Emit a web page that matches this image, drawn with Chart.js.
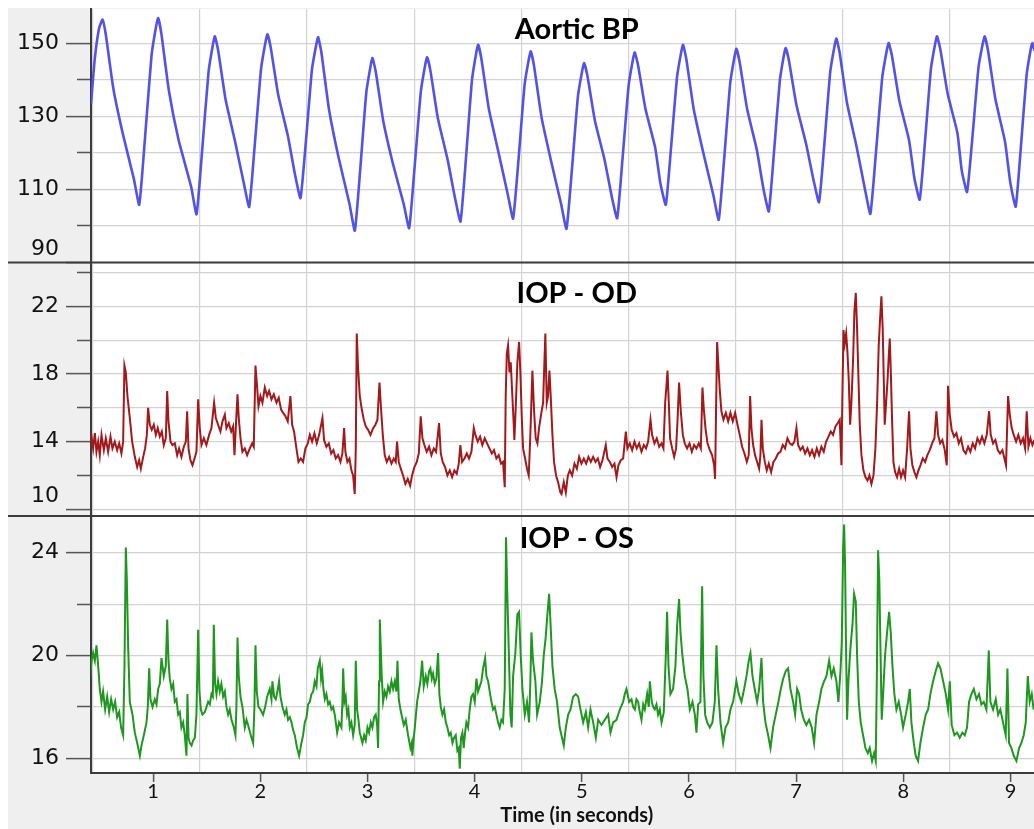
<!DOCTYPE html>
<html>
<head>
<meta charset="utf-8">
<script src="https://cdn.jsdelivr.net/npm/chart.js@4/dist/chart.umd.min.js"></script>
<style>
html,body{margin:0;padding:0;background:#fff;}
#wrap{position:relative;width:1034px;height:829px;}
</style>
</head>
<body>
<div id="wrap"><canvas id="c"></canvas></div>
<script>
// ---------- axis values ----------
const timeMin = 0.42, timeMax = 9.22;
const timeTicks = [1, 2, 3, 4, 5, 6, 7, 8, 9];
const timeGrid = [0.436, 1.436, 2.436, 3.436, 4.436, 5.436, 6.436, 7.436, 8.436];
const xTitle = 'Time (in seconds)';

const bpRange = [90, 159.4];
const bpTicks = [90, 100, 110, 120, 130, 140, 150];
const bpLabelled = [90, 110, 130, 150];

const odRange = [9.6, 24.6];
const odTicks = [10, 12, 14, 16, 18, 20, 22, 24];
const odLabelled = [10, 14, 18, 22];

const osRange = [15.43, 25.43];
const osTicks = [16, 18, 20, 22, 24];
const osLabelled = [16, 20, 24];

const panelTitles = ['Aortic BP', 'IOP - OD', 'IOP - OS'];
const titleTime = 4.953;
const titleLevels = [151.3, 22.2, 24.2];

// ---------- series [time (s), value] ----------
const aorticBP = [
[0.420,133.5],[0.456,146.0],[0.496,154.2],[0.528,156.5],
[0.558,152.4],[0.628,137.7],[0.718,125.1],[0.820,112.9],[0.870,105.8],
[0.923,123.7],[0.985,146.7],[1.029,154.9],[1.047,156.9],
[1.077,152.6],[1.147,137.0],[1.237,123.6],[1.355,110.7],[1.405,103.2],
[1.456,120.2],[1.517,142.2],[1.560,150.0],[1.576,151.9],
[1.606,148.2],[1.676,134.6],[1.766,122.9],[1.846,111.7],[1.896,105.2],
[1.947,121.8],[2.007,143.0],[2.050,150.6],[2.067,152.5],
[2.097,148.9],[2.167,135.9],[2.257,124.7],[2.325,113.9],[2.375,107.6],
[2.425,123.0],[2.482,142.9],[2.524,149.9],[2.540,151.7],
[2.570,147.5],[2.640,132.1],[2.730,118.8],[2.832,106.1],[2.882,98.7],
[2.932,115.3],[2.989,136.5],[3.031,144.1],[3.047,146.0],
[3.077,142.3],[3.147,128.8],[3.237,117.1],[3.339,105.9],[3.389,99.4],
[3.439,115.8],[3.498,136.8],[3.540,144.3],[3.557,146.2],
[3.587,142.6],[3.657,129.5],[3.747,118.3],[3.818,107.5],[3.868,101.2],
[3.918,118.1],[3.975,139.9],[4.017,147.7],[4.033,149.6],
[4.063,145.8],[4.133,132.0],[4.223,120.1],[4.309,108.7],[4.359,102.0],
[4.409,118.0],[4.466,138.6],[4.508,146.0],[4.524,147.8],
[4.554,143.9],[4.624,129.8],[4.714,117.7],[4.807,106.0],[4.857,99.2],
[4.907,115.1],[4.964,135.5],[5.006,142.8],[5.022,144.6],
[5.052,141.2],[5.122,128.9],[5.212,118.2],[5.280,108.0],[5.330,102.1],
[5.379,118.0],[5.437,138.4],[5.478,145.7],[5.494,147.5],
[5.524,144.2],[5.594,132.1],[5.684,121.6],[5.734,111.6],[5.784,105.8],
[5.832,121.1],[5.889,140.8],[5.929,147.8],[5.945,149.6],
[5.975,145.8],[6.045,131.9],[6.135,119.9],[6.228,108.4],[6.278,101.7],
[6.328,118.1],[6.385,139.1],[6.427,146.6],[6.443,148.5],
[6.473,144.9],[6.543,132.0],[6.633,120.9],[6.695,110.2],[6.745,104.0],
[6.792,119.6],[6.848,139.8],[6.887,146.9],[6.903,148.7],
[6.933,145.3],[7.003,133.1],[7.093,122.5],[7.164,112.4],[7.214,106.5],
[7.263,122.2],[7.319,142.3],[7.360,149.5],[7.376,151.3],
[7.406,147.5],[7.476,133.5],[7.566,121.5],[7.643,110.0],[7.693,103.3],
[7.744,119.7],[7.804,140.7],[7.847,148.2],[7.864,150.1],
[7.894,146.7],[7.964,134.2],[8.054,123.5],[8.103,113.2],[8.153,107.2],
[8.202,122.8],[8.258,143.0],[8.299,150.1],[8.315,151.9],
[8.345,148.5],[8.415,136.1],[8.505,125.5],[8.545,115.3],[8.595,109.3],
[8.645,124.2],[8.702,143.4],[8.744,150.2],[8.760,151.9],
[8.790,148.2],[8.860,134.7],[8.950,123.0],[8.999,111.8],[9.049,105.3],
[9.096,121.0],[9.150,141.1],[9.189,148.3],[9.205,150.1],[9.225,148.0]
];

const iopOD = [
[0.410,13.9],[0.425,14.3],[0.440,13.6],[0.456,14.5],[0.471,13.4],[0.487,14.0],[0.502,13.2],[0.518,14.4],[0.540,13.5],[0.558,14.2],[0.580,13.4],[0.602,14.3],[0.620,13.6],[0.642,14.0],[0.664,13.5],[0.683,13.9],[0.704,13.3],[0.720,14.0],
[0.732,18.5],[0.745,18.1],[0.760,16.7],[0.782,15.4],[0.804,14.0],[0.829,13.1],[0.851,12.5],[0.869,12.9],[0.885,12.4],[0.907,13.1],[0.925,13.6],[0.941,14.4],[0.953,16.0],[0.969,15.0],[0.987,14.7],[1.006,15.0],[1.025,14.4],[1.043,14.8],[1.062,14.3],[1.081,14.6],[1.099,13.8],[1.118,14.2],[1.131,17.0],[1.143,15.2],[1.162,14.0],[1.180,13.8],[1.202,13.9],[1.224,13.2],[1.242,13.6],[1.264,13.1],[1.286,13.7],[1.305,14.0],[1.317,15.8],[1.330,13.6],[1.348,12.9],[1.367,12.6],[1.386,13.0],[1.404,13.4],[1.420,16.5],[1.435,14.8],[1.451,13.8],[1.473,14.2],[1.497,13.8],[1.522,14.4],[1.544,14.8],[1.569,16.3],[1.585,15.4],[1.606,15.0],[1.628,14.6],[1.647,15.2],[1.669,15.6],[1.684,14.8],[1.706,15.1],[1.728,14.6],[1.746,14.9],[1.759,13.2],[1.771,14.8],[1.787,16.8],[1.799,15.4],[1.815,14.2],[1.833,13.4],[1.855,13.6],[1.877,13.2],[1.902,13.6],[1.924,13.9],[1.939,13.7],
[1.955,18.5],[1.967,17.5],[1.983,16.1],[2.001,16.7],[2.020,16.3],[2.042,17.2],[2.064,16.7],[2.082,17.0],[2.104,16.5],[2.126,16.8],[2.151,16.3],[2.172,16.6],[2.194,15.9],[2.213,15.7],[2.235,15.5],[2.256,15.2],[2.281,16.7],[2.297,15.0],[2.315,14.6],[2.337,13.6],[2.356,12.8],[2.378,13.0],[2.399,12.8],[2.421,13.6],[2.443,13.9],[2.462,14.4],[2.483,14.0],[2.505,14.5],[2.527,13.9],[2.549,14.4],[2.580,15.4],[2.595,14.1],[2.617,13.7],[2.639,13.9],[2.661,13.3],[2.682,13.5],[2.704,13.0],[2.726,13.2],[2.748,12.8],[2.766,13.3],[2.782,14.8],[2.794,13.4],[2.813,12.8],[2.832,13.0],[2.850,12.3],[2.866,12.0],[2.881,10.9],[2.891,13.6],
[2.900,20.4],[2.913,18.3],[2.928,16.7],[2.947,15.9],[2.966,15.3],[2.984,14.9],[3.006,14.7],[3.028,14.4],[3.053,14.8],[3.074,15.0],[3.093,15.3],[3.112,17.5],[3.127,15.9],[3.143,14.4],[3.161,13.2],[3.180,12.8],[3.202,13.1],[3.224,12.7],[3.245,13.0],[3.264,12.8],[3.276,14.0],[3.292,12.8],[3.311,12.4],[3.332,12.0],[3.354,11.5],[3.376,11.8],[3.398,11.4],[3.416,12.0],[3.438,12.5],[3.460,12.8],[3.479,13.3],[3.497,15.5],[3.513,14.2],[3.531,13.8],[3.553,13.4],[3.575,13.7],[3.597,13.2],[3.619,13.6],[3.640,13.4],[3.668,15.1],[3.684,13.3],[3.702,12.8],[3.724,12.5],[3.746,12.0],[3.768,12.3],[3.790,11.9],[3.811,12.3],[3.833,12.1],[3.852,12.7],[3.867,13.8],[3.883,12.8],[3.905,13.0],[3.927,13.3],[3.948,13.0],[3.970,13.4],[3.992,14.8],[4.007,14.4],[4.029,14.0],[4.051,14.3],[4.072,13.8],[4.094,14.2],[4.116,13.9],[4.138,13.6],[4.160,13.3],[4.181,13.5],[4.203,13.0],[4.225,13.2],[4.247,12.7],[4.265,12.8],[4.281,11.3],
[4.290,16.7],[4.300,19.2],[4.312,19.7],[4.325,18.1],[4.337,18.7],[4.349,17.1],[4.362,15.4],[4.371,14.1],[4.384,16.1],[4.399,18.7],[4.415,19.9],[4.427,18.1],[4.440,15.4],[4.452,13.6],[4.471,13.0],[4.489,12.4],[4.505,12.0],[4.520,14.4],[4.539,18.2],[4.555,15.8],[4.570,14.2],[4.586,13.9],[4.601,14.8],[4.620,15.6],[4.639,16.3],[4.651,18.7],[4.660,20.4],[4.673,16.3],[4.685,16.7],[4.698,18.2],[4.710,16.7],[4.726,14.4],[4.741,12.8],[4.760,12.0],[4.779,11.6],[4.800,11.0],
[4.811,10.9],[4.832,11.6],[4.851,11.0],[4.870,12.0],[4.888,12.3],[4.910,12.0],[4.932,12.7],[4.954,12.4],[4.975,13.1],[4.997,12.7],[5.019,13.0],[5.041,12.7],[5.062,13.1],[5.084,12.8],[5.106,13.1],[5.128,12.8],[5.150,13.0],[5.171,12.5],[5.193,12.9],[5.224,13.8],[5.240,13.0],[5.262,12.8],[5.283,12.5],[5.305,12.7],[5.324,11.9],[5.342,12.6],[5.364,12.9],[5.386,13.0],[5.411,14.6],[5.426,13.6],[5.448,13.9],[5.470,13.5],[5.492,14.0],[5.513,13.6],[5.535,13.9],[5.557,13.4],[5.579,13.8],[5.600,13.6],[5.619,14.0],[5.641,15.3],[5.656,14.4],[5.678,13.9],[5.700,14.2],[5.722,13.7],[5.744,13.9],[5.762,13.6],[5.778,16.3],[5.790,17.3],[5.800,18.2],[5.812,16.3],[5.824,14.2],[5.843,13.6],[5.862,13.1],[5.880,13.6],[5.893,15.2],[5.908,17.5],[5.924,15.8],[5.943,14.4],[5.961,13.9],[5.983,13.6],[6.005,13.9],[6.027,13.4],[6.048,13.8],[6.070,13.6],[6.092,13.9],[6.111,13.6],[6.126,17.2],[6.139,15.9],[6.154,14.8],[6.173,13.9],[6.195,13.5],[6.216,13.2],[6.235,12.6],[6.244,11.8],[6.254,16.3],[6.263,19.9],[6.275,18.5],[6.288,17.0],[6.303,15.8],[6.322,15.3],[6.344,15.7],[6.366,15.2],[6.387,15.7],[6.409,15.2],[6.431,15.7],[6.453,15.0],[6.474,14.4],[6.496,13.7],[6.518,13.3],[6.540,12.8],[6.558,13.2],[6.571,16.7],[6.583,14.8],[6.599,13.8],[6.617,13.2],[6.636,12.8],[6.655,12.4],[6.667,13.2],[6.677,15.3],[6.689,13.6],[6.708,12.8],[6.726,12.3],[6.745,12.7],[6.767,12.2],[6.788,12.8],[6.810,13.0],[6.832,13.3],[6.854,13.4],[6.876,13.8],[6.897,13.6],[6.919,14.2],[6.941,13.9],[6.963,13.8],[6.984,14.0],[7.003,14.8],[7.019,13.8],[7.040,13.5],[7.062,13.7],[7.084,13.3],[7.106,13.6],[7.128,13.2],[7.149,13.5],[7.171,13.1],[7.193,13.6],[7.214,13.2],[7.236,13.7],[7.258,13.4],[7.280,14.0],[7.302,14.3],[7.323,14.6],[7.345,14.4],[7.367,14.9],[7.389,15.1],[7.407,15.3],[7.423,12.6],
[7.432,16.7],[7.442,20.6],[7.454,19.8],[7.467,20.4],[7.479,19.3],[7.491,17.7],[7.504,15.0],[7.516,16.3],[7.532,18.9],[7.544,21.7],[7.557,22.8],[7.569,20.7],[7.582,17.7],[7.594,15.0],[7.610,13.2],[7.628,12.3],[7.647,11.9],[7.666,11.7],[7.684,12.0],[7.703,11.5],[7.722,12.0],[7.740,13.6],[7.756,16.3],[7.771,19.7],[7.784,21.3],[7.796,22.6],[7.808,20.7],[7.818,17.7],[7.827,15.0],[7.840,16.3],[7.852,17.5],[7.865,19.1],[7.874,20.1],[7.883,18.3],[7.896,15.2],[7.908,12.8],[7.924,12.2],[7.942,11.9],[7.961,12.4],[7.979,11.9],[7.998,12.3],[8.017,11.9],[8.036,13.6],[8.054,15.8],[8.067,13.6],[8.085,12.6],[8.104,12.2],[8.123,11.9],[8.142,12.3],[8.160,12.6],[8.182,13.0],[8.204,12.8],[8.225,13.2],[8.247,13.5],[8.269,13.9],[8.291,14.2],[8.309,15.8],[8.325,14.4],[8.344,13.9],[8.365,14.1],[8.387,13.5],[8.406,12.6],[8.418,17.3],[8.434,15.6],[8.452,14.7],[8.474,14.3],[8.496,14.5],[8.518,13.9],[8.539,14.2],[8.561,13.5],[8.583,13.3],[8.605,13.7],[8.627,13.4],[8.648,13.9],[8.670,13.6],[8.692,14.2],[8.714,13.9],[8.735,14.3],[8.757,13.9],[8.779,14.4],[8.801,15.8],[8.816,14.4],[8.838,13.9],[8.860,14.1],[8.882,13.5],[8.903,13.3],[8.925,13.5],[8.944,13.0],[8.959,12.6],[8.978,16.7],[8.994,15.6],[9.012,14.8],[9.031,14.4],[9.053,14.0],[9.074,14.4],[9.096,13.9],[9.118,14.2],[9.137,13.6],[9.152,15.8],[9.168,13.7],[9.186,14.2],[9.205,13.8],[9.224,14.1]
];

const iopOS = [
[0.409,19.0],[0.425,19.8],[0.440,20.1],[0.456,19.8],[0.471,20.4],[0.487,19.6],[0.502,18.7],[0.518,18.2],[0.533,18.6],[0.552,17.9],[0.571,18.4],[0.589,17.8],[0.608,18.3],[0.627,17.9],[0.645,18.2],[0.664,17.6],[0.683,17.8],[0.701,17.2],[0.720,16.9],[0.732,19.5],[0.745,24.2],[0.754,23.0],[0.767,20.3],[0.782,18.2],[0.807,17.7],[0.829,17.0],[0.851,16.6],[0.876,16.1],[0.891,16.5],[0.913,16.9],[0.938,17.4],[0.950,18.0],[0.963,19.5],[0.975,18.3],[0.994,18.0],[1.015,18.3],[1.031,18.1],[1.047,18.7],[1.062,18.9],[1.078,19.9],[1.099,19.2],[1.118,19.6],[1.131,21.4],[1.143,19.8],[1.155,19.1],[1.171,18.7],[1.187,18.9],[1.202,18.2],[1.218,18.3],[1.233,17.7],[1.249,17.8],[1.264,17.2],[1.280,17.4],[1.295,16.9],[1.311,16.1],[1.320,18.5],[1.330,16.8],[1.342,16.6],[1.358,16.5],[1.373,16.7],[1.389,16.8],[1.404,17.7],[1.420,21.0],[1.432,18.6],[1.445,17.9],[1.460,17.7],[1.482,17.8],[1.498,18.0],[1.513,18.2],[1.529,18.1],[1.544,18.5],[1.557,18.4],[1.566,21.2],[1.578,18.9],[1.591,18.5],[1.606,19.0],[1.622,18.6],[1.637,18.9],[1.653,18.4],[1.669,18.6],[1.684,18.0],[1.700,17.7],[1.715,17.9],[1.731,17.5],[1.753,17.2],[1.768,16.9],[1.777,18.0],[1.787,20.7],[1.799,19.2],[1.815,18.4],[1.833,18.0],[1.855,17.2],[1.871,17.5],[1.886,17.3],[1.911,16.9],[1.933,16.6],[1.945,18.0],[1.955,20.4],[1.967,18.6],[1.983,18.0],[2.001,17.9],[2.026,17.7],[2.045,18.0],[2.064,18.4],[2.088,18.7],[2.104,18.3],[2.113,19.0],[2.129,18.4],[2.144,18.3],[2.160,18.6],[2.175,19.0],[2.188,18.4],[2.207,18.0],[2.228,17.7],[2.244,17.9],[2.259,17.5],[2.275,17.6],[2.291,17.4],[2.306,17.1],[2.322,16.9],[2.343,16.4],[2.362,16.1],[2.384,16.6],[2.399,16.9],[2.415,17.4],[2.431,17.6],[2.446,18.1],[2.462,18.2],[2.477,18.5],[2.493,18.6],[2.508,19.0],[2.524,18.8],[2.536,19.5],[2.555,19.8],[2.567,19.1],[2.577,19.4],[2.589,18.7],[2.602,18.3],[2.617,18.5],[2.633,18.1],[2.648,18.2],[2.664,17.9],[2.679,18.0],[2.695,17.7],[2.717,17.0],[2.735,17.4],[2.757,17.2],[2.766,18.2],[2.773,19.5],[2.785,18.2],[2.797,18.4],[2.810,17.7],[2.822,17.9],[2.835,17.2],[2.850,17.4],[2.866,16.9],[2.881,17.3],[2.891,19.8],[2.903,17.9],[2.916,17.5],[2.928,17.0],[2.953,16.6],[2.969,16.9],[2.984,16.7],[3.000,17.2],[3.015,17.0],[3.031,17.4],[3.046,17.2],[3.062,17.6],[3.077,17.7],[3.090,17.3],[3.099,16.4],[3.108,19.0],[3.115,21.4],[3.124,20.3],[3.133,19.2],[3.146,18.2],[3.161,18.6],[3.177,18.4],[3.192,18.8],[3.208,18.6],[3.224,19.0],[3.239,18.7],[3.255,19.0],[3.270,18.6],[3.280,19.8],[3.292,18.3],[3.308,17.9],[3.323,17.6],[3.339,17.3],[3.357,17.5],[3.379,16.9],[3.401,16.4],[3.413,16.6],[3.419,16.1],[3.432,16.8],[3.444,17.3],[3.463,18.2],[3.479,18.6],[3.494,19.0],[3.510,19.8],[3.525,18.8],[3.544,19.2],[3.559,18.9],[3.575,19.4],[3.587,19.5],[3.600,19.1],[3.612,19.3],[3.628,18.9],[3.643,19.1],[3.659,20.1],[3.671,18.5],[3.684,18.0],[3.699,17.7],[3.715,17.9],[3.731,17.4],[3.746,17.2],[3.762,16.9],[3.777,17.0],[3.793,16.6],[3.808,16.8],[3.824,16.9],[3.839,16.3],[3.852,16.4],[3.861,15.6],[3.873,16.8],[3.886,17.0],[3.898,16.4],[3.911,17.0],[3.923,17.4],[3.939,17.2],[3.954,17.9],[3.970,18.4],[3.985,18.5],[4.001,18.2],[4.017,19.1],[4.032,18.6],[4.048,18.8],[4.063,19.0],[4.079,19.5],[4.098,19.9],[4.110,19.2],[4.126,19.0],[4.141,18.6],[4.157,18.2],[4.172,17.9],[4.188,18.0],[4.203,17.7],[4.219,17.4],[4.234,17.2],[4.250,17.5],[4.265,17.4],[4.281,18.7],[4.293,24.6],[4.306,22.2],[4.318,20.3],[4.334,17.7],[4.346,17.2],[4.359,19.2],[4.380,20.1],[4.399,21.6],[4.415,21.7],[4.430,20.0],[4.446,18.7],[4.468,17.7],[4.489,18.2],[4.508,17.4],[4.520,19.0],[4.530,20.9],[4.545,19.8],[4.567,19.0],[4.583,17.7],[4.608,18.2],[4.629,19.0],[4.645,20.0],[4.663,20.7],[4.679,21.6],[4.695,22.4],[4.710,21.1],[4.726,19.6],[4.747,18.7],[4.769,18.2],[4.794,17.2],
[4.832,16.5],[4.851,17.2],[4.873,17.7],[4.895,17.9],[4.919,18.4],[4.944,18.5],[4.966,18.4],[4.988,17.9],[5.013,17.4],[5.038,17.8],[5.059,17.2],[5.081,17.9],[5.106,17.4],[5.131,16.8],[5.153,17.5],[5.184,17.3],[5.215,17.5],[5.246,17.7],[5.268,17.0],[5.293,17.4],[5.324,17.5],[5.355,17.9],[5.386,18.2],[5.401,18.5],[5.417,18.7],[5.442,18.2],[5.464,18.3],[5.479,18.0],[5.495,17.9],[5.510,18.3],[5.526,18.2],[5.541,17.8],[5.557,17.5],[5.573,18.1],[5.588,17.9],[5.610,18.5],[5.625,18.0],[5.635,19.0],[5.653,18.2],[5.666,18.0],[5.681,17.9],[5.697,18.1],[5.712,17.7],[5.728,17.9],[5.744,17.4],[5.765,17.8],[5.784,20.0],[5.796,21.7],[5.809,19.6],[5.827,18.5],[5.852,18.7],[5.874,19.6],[5.890,21.2],[5.908,22.2],[5.921,20.9],[5.939,20.0],[5.961,19.2],[5.986,18.7],[6.008,17.9],[6.033,18.2],[6.055,17.7],[6.070,17.0],[6.086,18.1],[6.107,18.2],[6.123,22.7],[6.135,19.2],[6.151,17.7],[6.170,17.4],[6.195,17.2],[6.219,17.4],[6.241,18.2],[6.257,20.4],[6.272,18.7],[6.294,17.4],[6.319,16.6],[6.341,17.2],[6.366,17.4],[6.387,17.9],[6.412,18.2],[6.443,19.0],[6.465,18.5],[6.490,18.2],[6.515,18.7],[6.537,19.2],[6.558,19.8],[6.574,20.1],[6.593,19.2],[6.614,18.7],[6.636,18.2],[6.655,18.7],[6.677,19.9],[6.692,18.2],[6.714,17.4],[6.739,16.9],[6.761,16.4],[6.785,17.2],[6.810,17.7],[6.835,18.2],[6.857,18.7],[6.879,19.1],[6.904,19.4],[6.925,19.5],[6.947,18.7],[6.972,18.2],[6.991,17.7],[7.009,18.7],[7.028,18.5],[7.047,17.9],[7.072,17.5],[7.096,17.3],[7.121,17.5],[7.146,17.2],[7.168,16.6],[7.190,17.7],[7.215,18.2],[7.236,18.7],[7.261,19.0],[7.283,19.2],[7.308,19.8],[7.330,19.2],[7.351,19.5],[7.376,19.0],[7.395,18.2],[7.414,19.4],[7.426,20.5],[7.439,24.2],[7.448,25.1],[7.457,23.5],[7.467,20.0],[7.476,17.5],[7.488,19.0],[7.507,20.3],[7.526,21.2],[7.541,22.4],[7.557,22.1],[7.569,20.0],[7.585,18.2],[7.603,17.4],[7.625,16.9],[7.647,16.4],[7.669,16.2],[7.687,16.4],[7.709,15.9],[7.728,16.2],[7.743,15.9],[7.753,19.0],[7.765,24.1],[7.777,22.9],[7.787,20.3],[7.799,17.5],[7.812,18.5],[7.830,20.0],[7.849,20.9],[7.868,21.7],[7.883,20.9],[7.899,19.6],[7.917,18.5],[7.936,17.9],[7.958,18.2],[7.980,17.7],[7.998,17.2],[8.023,17.7],[8.045,18.2],[8.061,18.7],[8.076,17.4],[8.098,16.6],[8.116,16.1],[8.138,15.9],[8.160,16.6],[8.185,17.2],[8.210,17.7],[8.232,17.9],[8.253,18.5],[8.278,19.0],[8.303,19.4],[8.325,19.7],[8.347,19.5],[8.372,19.0],[8.397,18.5],[8.418,17.9],[8.434,19.0],[8.452,17.3],[8.477,16.9],[8.502,17.0],[8.527,16.8],[8.552,17.0],[8.574,16.9],[8.595,17.2],[8.614,18.2],[8.636,18.5],[8.658,18.7],[8.683,18.3],[8.707,18.5],[8.729,18.1],[8.751,18.2],[8.776,17.9],[8.798,20.2],[8.813,18.2],[8.838,17.9],[8.863,18.3],[8.885,17.7],[8.906,17.9],[8.931,17.4],[8.956,16.9],[8.972,19.5],[8.987,16.6],[9.009,16.4],[9.031,16.1],[9.056,15.9],[9.081,16.4],[9.102,16.6],[9.124,16.9],[9.143,17.4],[9.162,19.2],[9.180,18.2],[9.199,18.5],[9.217,17.9]
];

// ---------- styles ----------
const AXIS = '#3c3c3c', TICK = '#555555', GRID = '#d2d2d2', PANEL_BG = '#efefef';
const LABEL_FONT = {family: 'DejaVu Sans', size: 22};

function yAxis(range, ticks, labelled, weight, liftBottomLabel) {
  const bottomLabel = Math.min(...labelled);
  return {
    type: 'linear', position: 'left', stack: 'panels', stackWeight: weight,
    min: range[0], max: range[1],
    afterFit(s) { s.width = 91; s.paddingTop = 0; s.paddingBottom = 0; },
    afterBuildTicks(s) { s.ticks = ticks.map(v => ({value: v})); },
    border: {display: true, color: AXIS, width: 2},
    grid: {
      color: GRID, lineWidth: 1.2, tickLength: 25, tickColor: TICK, tickWidth: 1.5,
      tickBorderDash: c => (c.tick && labelled.includes(c.tick.value)) ? [] : [0, 11, 14, 0]
    },
    ticks: {
      autoSkip: false, padding: 7, color: '#111', font: LABEL_FONT,
      callback: v => labelled.includes(v) ? ((liftBottomLabel && v === bottomLabel) ? [String(v), ''] : String(v)) : ''
    }
  };
}

const decor = {
  id: 'decor',
  beforeDraw(chart) {
    const {ctx, chartArea: a, width, height} = chart;
    ctx.save();
    ctx.fillStyle = '#ffffff'; ctx.fillRect(0, 0, width, height);
    ctx.fillStyle = PANEL_BG; ctx.fillRect(8, 8, width - 8, height - 8);
    ctx.fillStyle = '#ffffff'; ctx.fillRect(a.left, a.top, a.right - a.left, a.bottom - a.top);
    ctx.restore();
  },
  afterDraw(chart) {
    const {ctx} = chart; const s = chart.scales;
    ctx.save();
    ctx.strokeStyle = AXIS; ctx.lineWidth = 2;
    [s.yBP.bottom, s.yOD.bottom].forEach(y => {
      ctx.beginPath(); ctx.moveTo(8, y); ctx.lineTo(chart.width, y); ctx.stroke();
    });
    ctx.fillStyle = '#000'; ctx.textAlign = 'center'; ctx.textBaseline = 'alphabetic';
    ctx.font = 'bold 29px Lato';
    const cx = s.x.getPixelForValue(titleTime);
    [s.yBP, s.yOD, s.yOS].forEach((sc, i) => {
      ctx.fillText(panelTitles[i], cx, sc.getPixelForValue(titleLevels[i]));
    });
    ctx.font = 'bold 20px Lato';
    ctx.fillStyle = '#111';
    ctx.fillText(xTitle, cx, s.x.top + 49);
    ctx.restore();
  }
};

const toXY = arr => arr.map(p => ({x: p[0], y: p[1]}));

new Chart(document.getElementById('c'), {
  type: 'line',
  data: {
    datasets: [
      {label: panelTitles[0], data: toXY(aorticBP), yAxisID: 'yBP', borderColor: '#5252e8', borderWidth: 2.6,
       pointRadius: 0, tension: 0.15, borderJoinStyle: 'round', fill: false},
      {label: panelTitles[1], data: toXY(iopOD), yAxisID: 'yOD', borderColor: '#a3181a', borderWidth: 2.0,
       pointRadius: 0, tension: 0, fill: false},
      {label: panelTitles[2], data: toXY(iopOS), yAxisID: 'yOS', borderColor: '#1e971e', borderWidth: 2.0,
       pointRadius: 0, tension: 0, fill: false}
    ]
  },
  options: {
    responsive: true, maintainAspectRatio: false, animation: false, devicePixelRatio: 1,
    layout: {padding: {top: 9, left: 0, right: 0, bottom: 0}, autoPadding: false},
    plugins: {legend: {display: false}, tooltip: {enabled: false}, title: {display: false}},
    scales: {
      x: {
        type: 'linear', position: 'bottom', min: timeMin, max: timeMax,
        afterFit(s) { s.height = 56; s.paddingLeft = 0; s.paddingRight = 0; },
        afterBuildTicks(s) {
          s.ticks = [...timeGrid, ...timeTicks].sort((a, b) => a - b).map(v => ({value: v}));
        },
        border: {display: true, color: AXIS, width: 2},
        grid: {
          lineWidth: 1.2, tickLength: 9, tickWidth: 1.5,
          color: c => (c.tick && timeGrid.includes(c.tick.value)) ? GRID : 'rgba(0,0,0,0)',
          tickColor: c => (c.tick && timeTicks.includes(c.tick.value)) ? TICK : 'rgba(0,0,0,0)'
        },
        ticks: {
          autoSkip: false, maxRotation: 0, padding: -2, color: '#111',
          font: {family: 'Lato', size: 20},
          callback: v => timeTicks.includes(v) ? String(v) : ''
        }
      },
      yOS: yAxis(osRange, osTicks, osLabelled, 257, false),
      yOD: yAxis(odRange, odTicks, odLabelled, 253.5, true),
      yBP: yAxis(bpRange, bpTicks, bpLabelled, 253.5, true)
    }
  },
  plugins: [decor]
});
</script>
</body>
</html>
